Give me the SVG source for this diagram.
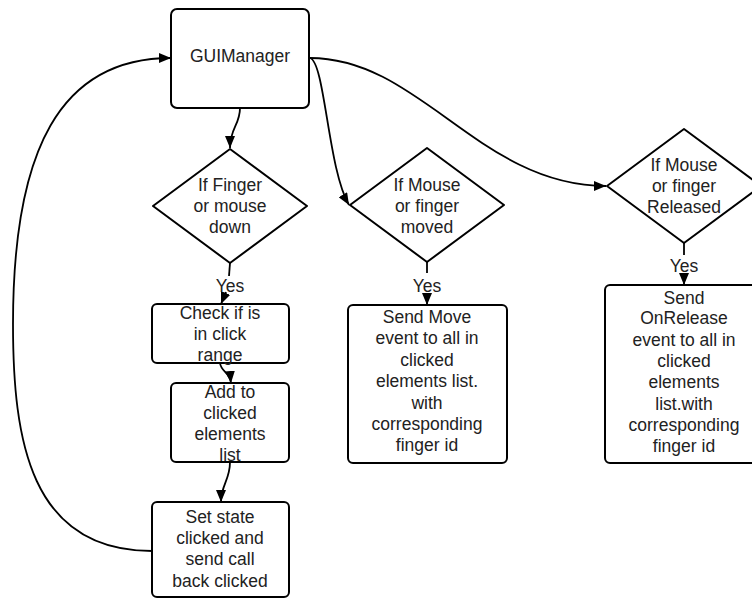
<svg xmlns="http://www.w3.org/2000/svg" width="752" height="599" viewBox="0 0 752 599">
<defs>
<marker id="arr" viewBox="0 0 12 10" refX="12" refY="5" markerWidth="12" markerHeight="10" markerUnits="userSpaceOnUse" orient="auto">
<path d="M0,0 L12,5 L0,10 z" fill="#000"/>
</marker>
<style>
.box{fill:#fff;stroke:#000;stroke-width:2}
.c{fill:none;stroke:#000;stroke-width:1.8}
.a{marker-end:url(#arr)}
text{font-family:"Liberation Sans",Arial,sans-serif;font-size:17.5px;fill:#222;text-anchor:middle}
</style>
</defs>
<rect width="752" height="599" fill="#fff"/>
<g id="connectors">
<path class="c a" d="M240,108 C240,125 230,128 230,148"/>
<path class="c a" d="M310,58 C325,62 328,170 349,205"/>
<path class="c a" d="M310,58 C420,58 480,186 606,186"/>
<path class="c" d="M230,263 L229,276"/>
<path class="c a" d="M226,292 L221,304"/>
<path class="c" d="M427,262 L427,273"/>
<path class="c a" d="M427,294 L427,305"/>
<path class="c" d="M684,243 L684,255"/>
<path class="c a" d="M684,274 L684,285"/>
<path class="c a" d="M220,363 C221,372 230,372 231,383"/>
<path class="c a" d="M230,462 C230,480 221,485 221,502"/>
<path class="c a" d="M152,551 C30,551 13,440 13,324 C13,150 60,58 171,58"/>
<text x="230" y="292">Yes</text>
<text x="427" y="292">Yes</text>
<text x="684" y="272">Yes</text>
</g>
<g id="gui">
<rect class="box" x="171" y="9" width="138" height="99" rx="6"/>
<text x="240" y="62">GUIManager</text>
</g>
<g id="d1">
<path class="box" d="M230,149 L307,206 L230,263 L153,206 z" stroke-linejoin="round"/>
<text x="230" y="191">If Finger</text>
<text x="230" y="212">or mouse</text>
<text x="230" y="233">down</text>
</g>
<g id="d2">
<path class="box" d="M427,148 L504,205 L427,262 L350,205 z" stroke-linejoin="round"/>
<text x="427" y="191">If Mouse</text>
<text x="427" y="212">or finger</text>
<text x="427" y="233">moved</text>
</g>
<g id="d3">
<path class="box" d="M684,129 L761,186 L684,243 L607,186 z" stroke-linejoin="round"/>
<text x="684" y="171">If Mouse</text>
<text x="684" y="192">or finger</text>
<text x="684" y="213">Released</text>
</g>
<g id="check">
<rect class="box" x="152" y="304" width="137" height="59" rx="5"/>
<text x="220" y="319">Check if is</text>
<text x="220" y="340">in click</text>
<text x="220" y="361">range</text>
</g>
<g id="add">
<rect class="box" x="171" y="383" width="118" height="79" rx="5"/>
<text x="230" y="398">Add to</text>
<text x="230" y="419">clicked</text>
<text x="230" y="440">elements</text>
<text x="230" y="461">list</text>
</g>
<g id="setstate">
<rect class="box" x="152" y="502" width="137" height="95" rx="5"/>
<text x="220" y="523">Set state</text>
<text x="220" y="544">clicked and</text>
<text x="220" y="565">send call</text>
<text x="220" y="587">back clicked</text>
</g>
<g id="sendmove">
<rect class="box" x="348" y="305" width="159" height="158" rx="5"/>
<text x="427" y="323">Send Move</text>
<text x="427" y="344">event to all in</text>
<text x="427" y="366">clicked</text>
<text x="427" y="387">elements list.</text>
<text x="427" y="409">with</text>
<text x="427" y="430">corresponding</text>
<text x="427" y="451">finger id</text>
</g>
<g id="sendrelease">
<rect class="box" x="605" y="285" width="158" height="178" rx="5"/>
<text x="684" y="304">Send</text>
<text x="684" y="324">OnRelease</text>
<text x="684" y="346">event to all in</text>
<text x="684" y="367">clicked</text>
<text x="684" y="388">elements</text>
<text x="684" y="410">list.with</text>
<text x="684" y="431">corresponding</text>
<text x="684" y="452">finger id</text>
</g>
</svg>
